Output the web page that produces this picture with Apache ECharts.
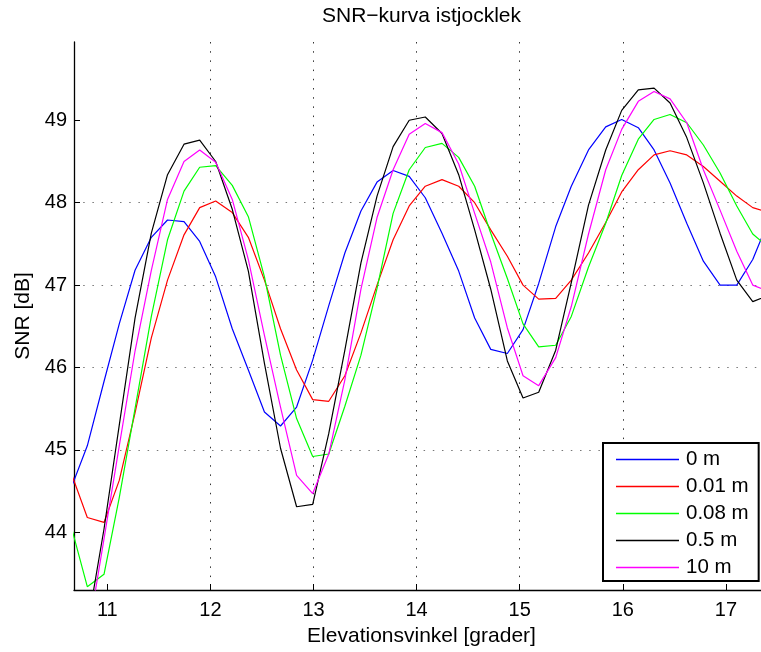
<!DOCTYPE html>
<html><head><meta charset="utf-8">
<script src="https://cdn.jsdelivr.net/npm/echarts@6/dist/echarts.min.js"></script>
<style>html,body{margin:0;padding:0;background:#fff}#c{width:761px;height:652px}</style>
</head><body><div id="c"></div>
<script>
// Elevation angle samples (degrees)
const elevation = [10.650, 10.806, 10.968, 11.116, 11.269, 11.427, 11.584, 11.744, 11.896, 12.051,
  12.212, 12.368, 12.524, 12.680, 12.836, 12.992, 13.148, 13.304, 13.460, 13.616,
  13.772, 13.928, 14.084, 14.246, 14.408, 14.563, 14.719, 14.880, 15.032, 15.184,
  15.349, 15.500, 15.667, 15.834, 15.989, 16.150, 16.303, 16.458, 16.620, 16.781,
  16.943, 17.105, 17.260, 17.420];
// SNR [dB] per snow thickness
const snr0m = [44.54, 45.05, 45.83, 46.53, 47.18, 47.58, 47.79, 47.77, 47.53, 47.10,
  46.47, 45.97, 45.46, 45.29, 45.52, 46.09, 46.75, 47.39, 47.90, 48.25,
  48.39, 48.32, 48.06, 47.63, 47.17, 46.60, 46.22, 46.17, 46.46, 47.02,
  47.71, 48.20, 48.64, 48.92, 49.01, 48.91, 48.64, 48.24, 47.75, 47.29,
  47.00, 47.00, 47.31, 47.80];
const snr001m = [44.72, 44.18, 44.12, 44.63, 45.45, 46.36, 47.06, 47.61, 47.94, 48.02,
  47.88, 47.58, 47.06, 46.47, 45.97, 45.61, 45.59, 45.90, 46.42, 47.00,
  47.55, 47.96, 48.20, 48.28, 48.20, 48.00, 47.67, 47.35, 47.00, 46.83,
  46.84, 47.06, 47.39, 47.76, 48.13, 48.40, 48.58, 48.63, 48.58, 48.44,
  48.26, 48.08, 47.94, 47.88];
const snr008m = [44.07, 43.34, 43.49, 44.42, 45.50, 46.62, 47.55, 48.14, 48.43, 48.45,
  48.21, 47.83, 47.10, 46.15, 45.38, 44.92, 44.95, 45.53, 46.15, 46.96,
  47.87, 48.40, 48.67, 48.72, 48.55, 48.20, 47.63, 47.08, 46.53, 46.25,
  46.27, 46.62, 47.22, 47.75, 48.33, 48.77, 49.01, 49.07, 48.97, 48.70,
  48.36, 47.96, 47.62, 47.45];
const snr05m = [43.00, 42.85, 44.04, 45.30, 46.60, 47.63, 48.34, 48.71, 48.76, 48.50,
  47.92, 47.17, 46.05, 45.02, 44.31, 44.34, 45.20, 46.21, 47.27, 48.08,
  48.68, 49.00, 49.04, 48.84, 48.34, 47.67, 46.95, 46.08, 45.63, 45.70,
  46.21, 47.03, 47.97, 48.64, 49.12, 49.37, 49.39, 49.21, 48.79, 48.24,
  47.63, 47.06, 46.80, 46.88];
const snr10m = [43.00, 42.70, 43.92, 45.05, 46.20, 47.18, 48.04, 48.50, 48.64, 48.49,
  48.04, 47.31, 46.39, 45.52, 44.69, 44.47, 44.95, 45.85, 46.95, 47.82,
  48.40, 48.83, 48.96, 48.85, 48.47, 47.87, 47.28, 46.48, 45.90, 45.78,
  46.12, 46.74, 47.62, 48.40, 48.89, 49.23, 49.35, 49.26, 48.97, 48.40,
  47.91, 47.41, 47.00, 46.92];
const seriesNames = ['0 m', '0.01 m', '0.08 m', '0.5 m', '10 m'];
const xTicks = [11, 12, 13, 14, 15, 16, 17];
const yTicks = [44, 45, 46, 47, 48, 49];

const seriesValues = [snr0m, snr001m, snr008m, snr05m, snr10m];
const colors = ['#0000ff', '#ff0000', '#00ff00', '#000000', '#ff00ff'];
const FONT = 'Liberation Sans, Arial, Helvetica, sans-serif';

const chart = echarts.init(document.getElementById('c'), null, {renderer: 'canvas'});
chart.setOption({
  animation: false,
  backgroundColor: '#fff',
  title: {
    text: 'SNR\u2212kurva istjocklek',
    left: 322, top: 6, padding: 0,
    textStyle: {fontFamily: FONT, fontSize: 21, fontWeight: 'normal', color: '#000'}
  },
  grid: {left: 74, right: 0, top: 42, bottom: 62, containLabel: false},
  legend: {
    orient: 'vertical', left: 603, top: 443,
    padding: [6, 10, 3, 13],
    icon: 'rect',
    itemWidth: 63, itemHeight: 1.4, itemGap: 6,
    borderColor: '#000', borderWidth: 2, backgroundColor: '#fff',
    textStyle: {fontFamily: FONT, fontSize: 20.5, color: '#000', lineHeight: 20, padding: [0, 0, 0, 2]},
    data: seriesNames
  },
  xAxis: {
    type: 'value', min: 10.677, max: 17.34, minInterval: 1, maxInterval: 1,
    name: 'Elevationsvinkel [grader]', nameLocation: 'middle', nameGap: 36,
    nameTextStyle: {fontFamily: FONT, fontSize: 21, color: '#000', padding: [0, 0, 0, 8]},
    axisLine: {show: true, lineStyle: {color: '#000', width: 1.3}},
    axisTick: {show: true, inside: true, length: 6, lineStyle: {color: '#000'}, customValues: xTicks},
    axisLabel: {fontFamily: FONT, fontSize: 20, color: '#000', margin: 10, customValues: xTicks},
    splitLine: {show: true, showMinLine: false, showMaxLine: false, lineStyle: {color: '#333', width: 1, type: [1.5, 7.7]}}
  },
  yAxis: {
    type: 'value', min: 43.3, max: 49.95, minInterval: 1, maxInterval: 1,
    name: 'SNR [dB]', nameLocation: 'middle', nameGap: 34,
    nameTextStyle: {fontFamily: FONT, fontSize: 21, color: '#000'},
    axisLine: {show: true, lineStyle: {color: '#000', width: 1.3}},
    axisTick: {show: true, inside: true, length: 6, lineStyle: {color: '#000'}, customValues: yTicks},
    axisLabel: {fontFamily: FONT, fontSize: 20, color: '#000', margin: 7, customValues: yTicks},
    splitLine: {show: true, showMinLine: false, showMaxLine: false, lineStyle: {color: '#777', width: 1, type: [1.5, 7.7]}}
  },
  series: seriesNames.map((name, k) => ({
    name: name,
    type: 'line',
    symbol: 'none',
    data: elevation.map((x, i) => [x, seriesValues[k][i]]),
    lineStyle: {color: colors[k], width: 1.2},
    itemStyle: {color: colors[k]},
    clip: true
  }))
});
</script></body></html>
